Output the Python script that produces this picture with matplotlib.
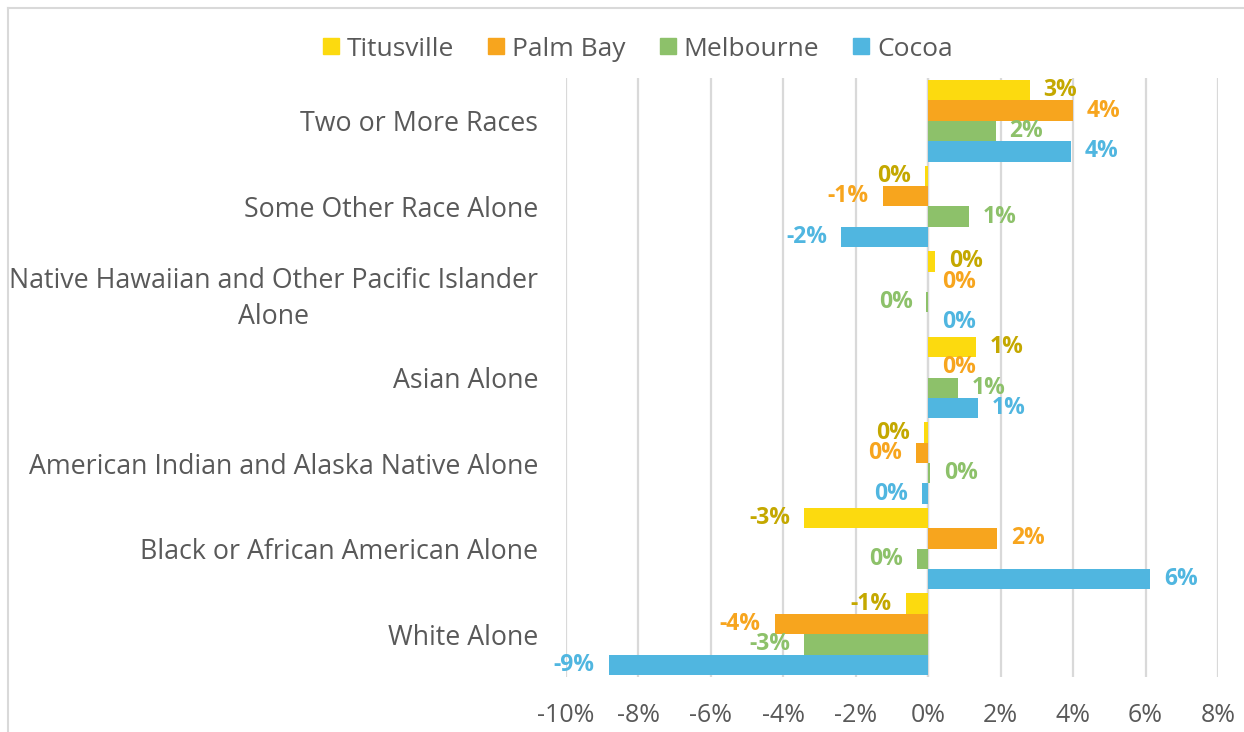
import matplotlib
matplotlib.use("Agg")
import matplotlib.pyplot as plt
from matplotlib.lines import Line2D
import numpy as np

plt.rcParams['font.family'] = ['Open Sans', 'DejaVu Sans']

# ---- data (percent change), categories listed bottom to top ----
categories = [
    "White Alone",
    "Black or African American Alone",
    "American Indian and Alaska Native Alone",
    "Asian Alone",
    "Native Hawaiian and Other Pacific Islander\nAlone",
    "Some Other Race Alone",
    "Two or More Races",
]
series_names = ["Titusville", "Palm Bay", "Melbourne", "Cocoa"]
titusville = [-0.62, -3.42, -0.12, 1.31, 0.18, -0.10, 2.80]
palm_bay = [-4.24, 1.91, -0.35, 0.0, 0.0, -1.26, 3.99]
melbourne = [-3.42, -0.32, 0.05, 0.82, -0.05, 1.12, 1.86]
cocoa = [-8.82, 6.12, -0.18, 1.37, 0.0, -2.40, 3.94]
x_ticks = [-10, -8, -6, -4, -2, 0, 2, 4, 6, 8]

bar_colors = ["#FCDA0F", "#F7A51E", "#8DC16A", "#50B6E0"]
label_colors = ["#C4A800", "#F7A51E", "#8DC16A", "#50B6E0"]
text_gray = "#595959"

fig = plt.figure(figsize=(12.44, 7.32), dpi=100)
ax = fig.add_axes([566 / 1244, 55 / 732, 652 / 1244, 599 / 732])

y = np.arange(len(categories))
h = 0.238
offsets = [1.5 * h, 0.5 * h, -0.5 * h, -1.5 * h]
all_series = [titusville, palm_bay, melbourne, cocoa]

for vals, name, col, lcol, off in zip(all_series, series_names, bar_colors, label_colors, offsets):
    ax.barh(y + off, vals, height=h, color=col, label=name, zorder=3)
    for yi, v in zip(y, vals):
        txt = f"{v:.0f}%"
        if txt == "-0%":
            txt = "0%"
        if v >= 0:
            ax.annotate(txt, (v, yi + off), xytext=(10, 0), textcoords="offset points",
                        ha="left", va="center", color=lcol, fontsize=16.5, fontweight="bold", zorder=4)
        else:
            ax.annotate(txt, (v, yi + off), xytext=(-10, 0), textcoords="offset points",
                        ha="right", va="center", color=lcol, fontsize=16.5, fontweight="bold", zorder=4)

ax.set_xlim(-10, 8)
ax.set_ylim(-0.5, len(categories) - 0.5)
ax.set_xticks(x_ticks)
ax.set_xticklabels([f"{t}%" for t in x_ticks], fontsize=18)
ax.set_yticks(y)
ax.set_yticklabels(categories, fontsize=19.3)
for lbl in ax.get_yticklabels():
    lbl.set_multialignment("center")
    lbl.set_linespacing(1.35)

ax.grid(axis="x", color="#D9D9D9", linewidth=1.6, zorder=0)
ax.axvline(0, color="#D9D9D9", linewidth=1.6, zorder=2)
for s in ax.spines.values():
    s.set_visible(False)
ax.tick_params(axis="both", length=0, colors=text_gray)
ax.tick_params(axis="x", pad=19)
ax.tick_params(axis="y", pad=20)

# legend at top
handles = [Line2D([0], [0], marker="s", linestyle="none", markersize=12,
                  markerfacecolor=c, markeredgecolor=c) for c in bar_colors]
leg = fig.legend(handles, series_names, loc="center", bbox_to_anchor=(635 / 1244, 1 - 49 / 732),
                 ncol=4, frameon=False, fontsize=19, handletextpad=0.1, columnspacing=1.1,
                 handlelength=1.0)
for t in leg.get_texts():
    t.set_color(text_gray)

# chart frame
fig.add_artist(Line2D([8 / 1244, 8 / 1244], [0, 1 - 8 / 732], color="#D9D9D9", linewidth=1.5))
fig.add_artist(Line2D([8 / 1244, 1], [1 - 8 / 732, 1 - 8 / 732], color="#D9D9D9", linewidth=1.5))

fig.savefig("out.png", dpi=100)
